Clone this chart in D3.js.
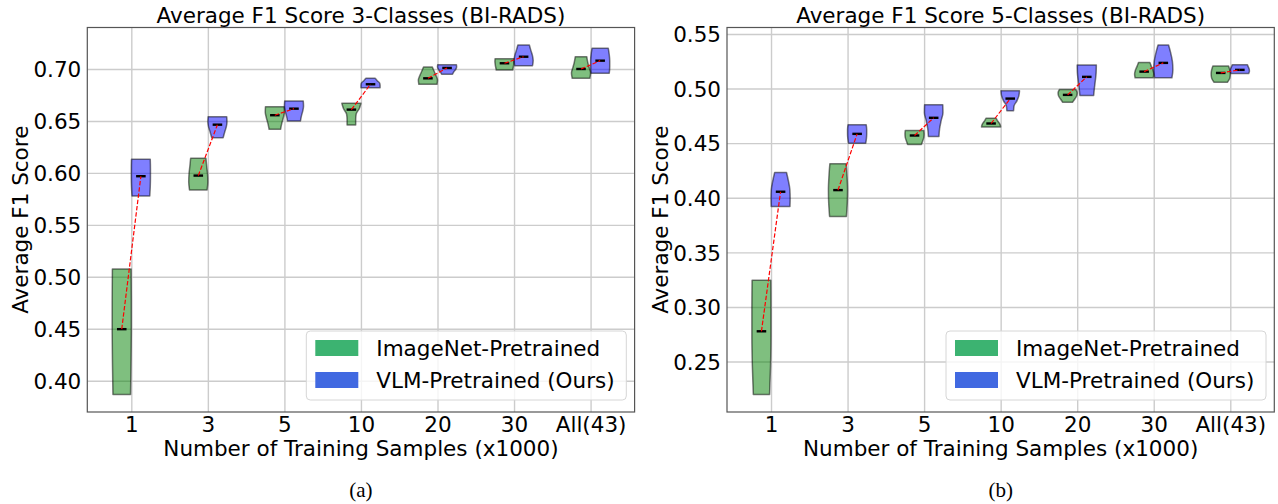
<!DOCTYPE html>
<html>
<head>
<meta charset="utf-8">
<script src="https://cdn.jsdelivr.net/npm/d3@7"></script>
<style>
  body { margin: 0; background: #fff; }
  svg text { font-family: "DejaVu Sans", sans-serif; fill: #000; }
</style>
</head>
<body>
<svg id="chart" width="1278" height="504"></svg>
<script>
const categories = ['1', '3', '5', '10', '20', '30', 'All(43)']
const seriesNames = ['ImageNet-Pretrained', 'VLM-Pretrained (Ours)']

// 3-class panel: violin bottom / mean / top, and relative widths bottom -> top
const imagenet3Low = [0.3867, 0.5836, 0.642, 0.6461, 0.6853, 0.699, 0.691]
const imagenet3Mean = [0.4496, 0.5974, 0.6555, 0.6609, 0.691, 0.7055, 0.700]
const imagenet3High = [0.5076, 0.6141, 0.6637, 0.667, 0.7019, 0.7099, 0.7118]
const imagenet3Shape = [[0.92, 0.97, 1, 1, 0.98], [0.92, 1, 0.97, 0.88, 0.8], [0.6, 0.72, 0.88, 1, 0.98],
    [0.45, 0.45, 0.5, 0.82, 1], [0.95, 1, 0.85, 0.65, 0.46], [0.86, 0.92, 0.97, 1, 0.98], [0.92, 1, 0.85, 0.7, 0.6]]

const vlm3Low = [0.5778, 0.6339, 0.65, 0.682, 0.6949, 0.7032, 0.6959]
const vlm3Mean = [0.5968, 0.6464, 0.6618, 0.6853, 0.701, 0.7118, 0.708]
const vlm3High = [0.6131, 0.6541, 0.6692, 0.691, 0.7041, 0.7231, 0.7199]
const vlm3Shape = [[0.93, 0.98, 1, 1, 0.98], [0.6, 0.75, 0.92, 1, 0.97], [0.68, 0.78, 0.92, 1, 0.97],
    [1, 1, 0.95, 0.7, 0.48], [0.57, 0.7, 0.9, 1, 0.98], [0.93, 1, 0.92, 0.75, 0.6], [0.95, 1, 1, 0.95, 0.85]]

// 5-class panel
const imagenet5Low = [0.2198, 0.3829, 0.4488, 0.4647, 0.4875, 0.5098, 0.5058]
const imagenet5Mean = [0.2777, 0.407, 0.457, 0.468, 0.4942, 0.5155, 0.5143]
const imagenet5High = [0.3244, 0.4311, 0.4616, 0.4729, 0.4991, 0.5238, 0.5207]
const imagenet5Shape = [[0.85, 0.95, 1, 1, 0.98], [0.88, 0.97, 1, 0.95, 0.85], [0.72, 0.85, 0.97, 1, 0.97],
    [1, 0.95, 0.82, 0.65, 0.52], [0.52, 0.75, 0.95, 1, 0.85], [0.95, 1, 0.92, 0.75, 0.6], [0.7, 0.95, 1, 0.95, 0.82]]

const vlm5Low = [0.392, 0.45, 0.4561, 0.4796, 0.4936, 0.5098, 0.5137]
const vlm5Mean = [0.4055, 0.4585, 0.4732, 0.4908, 0.5107, 0.5235, 0.5171]
const vlm5High = [0.4231, 0.4668, 0.4851, 0.4979, 0.5216, 0.5399, 0.5219]
const vlm5Shape = [[0.98, 1, 0.97, 0.82, 0.62], [0.9, 0.97, 1, 1, 0.95], [0.55, 0.62, 0.78, 0.97, 0.95],
    [0.35, 0.4, 0.7, 0.9, 0.97], [0.72, 0.8, 0.9, 0.98, 1], [0.9, 1, 0.95, 0.78, 0.55], [0.92, 1, 0.98, 0.88, 0.78]]

const yTicks3 = [0.40, 0.45, 0.50, 0.55, 0.60, 0.65, 0.70]
const yTicks5 = [0.25, 0.30, 0.35, 0.40, 0.45, 0.50, 0.55]

const violinFill = ['rgba(0,128,0,0.5)', 'rgba(0,0,255,0.5)']
const legendFill = ['#3cb371', '#4169e1']

const svg = d3.select('#chart')

const makePanel = (left, title, caption, yTicks, series) => {
    const margin = ({ top: 27.5, bottom: 412 })
    const x0 = left, x1 = left + 547.3
    const g = svg.append('g')

    const pos = categories.map((d, i) => i + 1)
    const x = d3.scaleLinear()
        .domain([0.425, categories.length + 0.575])
        .range([x0, x1])

    const allVals = series.flatMap(s => s.low.concat(s.high))
    const [lo, hi] = d3.extent(allVals)
    const pad = (hi - lo) * 0.05
    const y = d3.scaleLinear()
        .domain([lo - pad, hi + pad])
        .range([margin.bottom, margin.top])

    // grid + tick labels
    g.append('g')
        .attr('transform', `translate(0,${margin.bottom})`)
        .call(d3.axisBottom(x).tickValues(pos).tickSize(-(margin.bottom - margin.top)).tickFormat((d, i) => categories[i]))
        .call(a => a.select('.domain').remove())
        .call(a => a.selectAll('.tick line').attr('stroke', '#cccccc').attr('stroke-width', 1.4))
        .call(a => a.selectAll('.tick text')
            .attr('y', 19.5).attr('dy', 0)
            .style('font-size', '21.5px').style('font-family', 'DejaVu Sans'))
    g.append('g')
        .attr('transform', `translate(${x0},0)`)
        .call(d3.axisLeft(y).tickValues(yTicks).tickSize(-(x1 - x0)).tickFormat(d3.format('.2f')))
        .call(a => a.select('.domain').remove())
        .call(a => a.selectAll('.tick line').attr('stroke', '#cccccc').attr('stroke-width', 1.4))
        .call(a => a.selectAll('.tick text')
            .attr('x', -6).attr('dy', '0.36em')
            .style('font-size', '21.5px').style('font-family', 'DejaVu Sans'))

    const area = d3.area()
        .curve(d3.curveMonotoneY)
        .y(d => y(d.v))
        .x0(d => x(d.c - d.w * 0.125))
        .x1(d => x(d.c + d.w * 0.125))

    series.forEach((s, si) => {
        const off = si === 0 ? -0.125 : 0.125
        pos.forEach((p, i) => {
            const c = p + off
            const pts = s.shape[i].map((w, k) => ({ c, w, v: s.low[i] + (s.high[i] - s.low[i]) * k / (s.shape[i].length - 1) }))
            g.append('path')
                .attr('d', area(pts))
                .attr('fill', violinFill[si])
                .attr('stroke', 'rgba(0,0,0,0.5)')
                .attr('stroke-width', 1.5)
                .attr('stroke-linejoin', 'round')
        })
    })

    // mean markers
    series.forEach((s, si) => {
        const off = si === 0 ? -0.125 : 0.125
        g.selectAll(null)
            .data(s.mean)
            .join('line')
            .attr('x1', (d, i) => x(pos[i] + off - 0.0625))
            .attr('x2', (d, i) => x(pos[i] + off + 0.0625))
            .attr('y1', d => y(d))
            .attr('y2', d => y(d))
            .attr('stroke', '#000')
            .attr('stroke-width', 2.4)
    })

    // dashed connector inside each pair
    g.selectAll(null)
        .data(pos)
        .join('line')
        .attr('x1', (p) => x(p - 0.125))
        .attr('x2', (p) => x(p + 0.125))
        .attr('y1', (p, i) => y(series[0].mean[i]))
        .attr('y2', (p, i) => y(series[1].mean[i]))
        .attr('stroke', 'red')
        .attr('stroke-width', 1.2)
        .attr('stroke-dasharray', '4.4,1.9')

    // spines
    g.append('rect')
        .attr('x', x0).attr('y', margin.top)
        .attr('width', x1 - x0).attr('height', margin.bottom - margin.top)
        .attr('fill', 'none').attr('stroke', '#555').attr('stroke-width', 1.2)

    g.append('text')
        .attr('x', (x0 + x1) / 2).attr('y', 22.5)
        .attr('text-anchor', 'middle')
        .style('font-size', '21.5px')
        .text(title)
    g.append('text')
        .attr('x', (x0 + x1) / 2).attr('y', 456)
        .attr('text-anchor', 'middle')
        .style('font-size', '21.5px')
        .text('Number of Training Samples (x1000)')
    g.append('text')
        .attr('transform', `translate(${x0 - 59},${(margin.top + margin.bottom) / 2}) rotate(-90)`)
        .attr('text-anchor', 'middle')
        .style('font-size', '21.5px')
        .text('Average F1 Score')
    g.append('text')
        .attr('x', (x0 + x1) / 2).attr('y', 497)
        .attr('text-anchor', 'middle')
        .style('font-family', '"Liberation Serif", "Times New Roman", serif')
        .style('font-size', '21px')
        .text(caption)

    // legend
    const lg = g.append('g').attr('transform', `translate(${x0 + 219},331)`)
    lg.append('rect')
        .attr('width', 320).attr('height', 69).attr('rx', 4)
        .attr('fill', 'rgba(255,255,255,0.8)')
        .attr('stroke', '#d6d6d6').attr('stroke-width', 1)
    seriesNames.forEach((name, i) => {
        lg.append('rect')
            .attr('x', 9).attr('y', 9 + i * 32)
            .attr('width', 43).attr('height', 16)
            .attr('fill', legendFill[i])
        lg.append('text')
            .attr('x', 70).attr('y', 25 + i * 32)
            .style('font-size', '21.5px')
            .text(name)
    })
}

makePanel(87.3, 'Average F1 Score 3-Classes (BI-RADS)', '(a)', yTicks3, [
    { low: imagenet3Low, mean: imagenet3Mean, high: imagenet3High, shape: imagenet3Shape },
    { low: vlm3Low, mean: vlm3Mean, high: vlm3High, shape: vlm3Shape }
])
makePanel(727, 'Average F1 Score 5-Classes (BI-RADS)', '(b)', yTicks5, [
    { low: imagenet5Low, mean: imagenet5Mean, high: imagenet5High, shape: imagenet5Shape },
    { low: vlm5Low, mean: vlm5Mean, high: vlm5High, shape: vlm5Shape }
])
</script>
</body>
</html>
